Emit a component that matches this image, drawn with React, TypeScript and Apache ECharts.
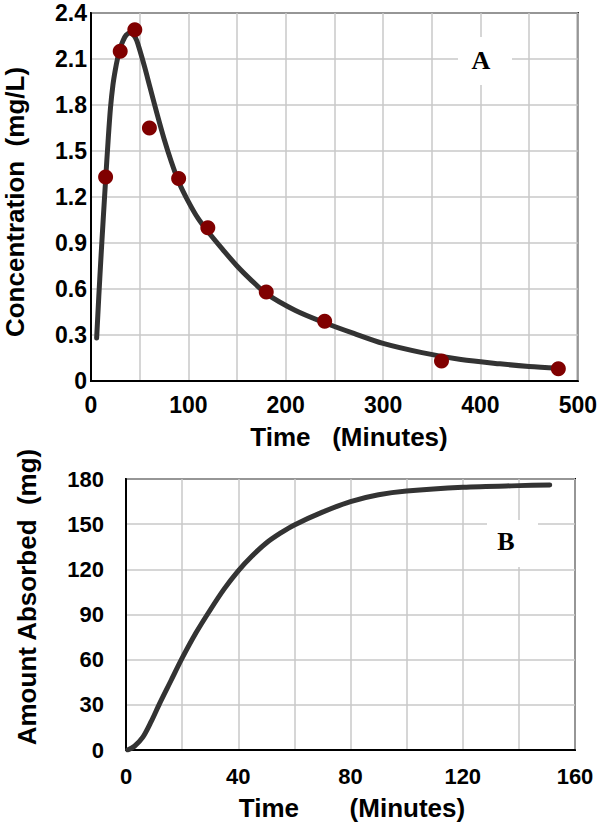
import React, { useEffect, useRef } from 'react';
import * as echarts from 'echarts';

// Panel A: observed concentrations (mg/L) vs time (min)
const obsTimeA = [15, 30, 45, 60, 90, 120, 180, 240, 360, 480];
const obsConcA = [1.33, 2.15, 2.29, 1.65, 1.32, 1.0, 0.58, 0.39, 0.13, 0.08];

// Panel A: fitted curve
const fitTimeA = [5.8, 8, 10, 12.5, 15, 17.5, 20, 22.5, 25, 27.5, 30, 33, 36, 40, 44, 47, 50, 55, 60, 67.5, 75, 82.5, 90, 100, 110, 120, 135, 150, 165, 180, 210, 240, 270, 300, 340, 380, 420, 450, 480];
const fitConcA = [0.28, 0.55, 0.78, 1.05, 1.31, 1.56, 1.78, 1.93, 2.03, 2.11, 2.17, 2.22, 2.255, 2.27, 2.255, 2.22, 2.16, 2.05, 1.93, 1.75, 1.58, 1.43, 1.3, 1.17, 1.06, 0.975, 0.86, 0.75, 0.655, 0.57, 0.46, 0.38, 0.31, 0.245, 0.185, 0.14, 0.112, 0.095, 0.083];

// Panel B: amount absorbed (mg) vs time (min)
const timeB = [0.6, 3, 6, 9, 12, 16, 20, 25, 30, 35, 40, 45, 50, 55, 60, 70, 80, 90, 100, 120, 140, 151];
const amountB = [0, 2.5, 8.5, 19, 31, 46, 61, 78, 93, 107, 119, 129, 137.5, 144, 149.5, 158, 165, 169.5, 172, 174.5, 175.6, 176];

const FONT = '"Liberation Sans", Arial, Helvetica, sans-serif';
const SERIF = '"Liberation Serif", "Times New Roman", serif';

export default function App() {
  const ref = useRef<HTMLDivElement>(null);
  useEffect(() => {
    document.body.style.margin = '0';
    const chart = echarts.init(ref.current!, undefined, { renderer: 'svg' });
    const tickLabel = {
      color: '#000',
      fontFamily: FONT,
      fontWeight: 'bold' as const,
      fontSize: 23,
    };
    const split = { show: true, lineStyle: { color: '#c8c8c8', width: 1.5 } };
    const axisLine = { show: true, lineStyle: { color: '#000', width: 2 } };
    const curveStyle = { color: '#333333', width: 5, cap: 'round' as const, join: 'round' as const };
    chart.setOption({
      animation: false,
      backgroundColor: '#fff',
      grid: [
        { left: 91, top: 13, width: 490, height: 368, show: true, borderColor: '#000', borderWidth: 2, backgroundColor: '#fff' },
        { left: 126, top: 479, width: 449, height: 271, show: true, borderColor: '#000', borderWidth: 2, backgroundColor: '#fff' },
      ],
      xAxis: [
        {
          type: 'value', gridIndex: 0, min: 0, max: 500, interval: 50,
          axisLine, axisTick: { show: false }, splitLine: split,
          axisLabel: { ...tickLabel, margin: 12, formatter: (v: number) => (v % 100 === 0 ? String(v) : '') },
        },
        {
          type: 'value', gridIndex: 1, min: 0, max: 160, interval: 20,
          axisLine, axisTick: { show: false }, splitLine: split,
          axisLabel: { ...tickLabel, fontSize: 22, margin: 15, formatter: (v: number) => (v % 40 === 0 ? String(v) : '') },
        },
      ],
      yAxis: [
        {
          type: 'value', gridIndex: 0, min: 0, max: 2.4, interval: 0.3,
          axisLine, axisTick: { show: false }, splitLine: split,
          axisLabel: { ...tickLabel, margin: 4, formatter: (v: number) => String(Math.round(v * 10) / 10) },
        },
        {
          type: 'value', gridIndex: 1, min: 0, max: 180, interval: 30,
          axisLine, axisTick: { show: false }, splitLine: split,
          axisLabel: { ...tickLabel, fontSize: 22, margin: 22 },
        },
      ],
      series: [
        {
          type: 'line', xAxisIndex: 0, yAxisIndex: 0,
          data: fitTimeA.map((t, i) => [t, fitConcA[i]]),
          smooth: 0.3, showSymbol: false, symbol: 'none',
          lineStyle: curveStyle,
          z: 2,
        },
        {
          type: 'scatter', xAxisIndex: 0, yAxisIndex: 0,
          data: obsTimeA.map((t, i) => [t, obsConcA[i]]),
          symbolSize: 15,
          itemStyle: { color: '#800000', opacity: 1 },
          z: 3,
        },
        {
          type: 'line', xAxisIndex: 1, yAxisIndex: 1,
          data: timeB.map((t, i) => [t, amountB[i]]),
          smooth: 0.3, showSymbol: false, symbol: 'none',
          lineStyle: curveStyle,
          z: 2,
        },
      ],
      graphic: [
        { type: 'rect', shape: { x: 458, y: 37, width: 54, height: 48 }, style: { fill: '#fff' }, z: 10 },
        { type: 'text', x: 481, y: 60, z: 11, style: { text: 'A', fontFamily: SERIF, fontWeight: 'bold', fontSize: 26, fill: '#000', align: 'center', verticalAlign: 'middle' } },
        { type: 'rect', shape: { x: 487, y: 520, width: 51, height: 47 }, style: { fill: '#fff' }, z: 10 },
        { type: 'text', x: 506, y: 541, z: 11, style: { text: 'B', fontFamily: SERIF, fontWeight: 'bold', fontSize: 26, fill: '#000', align: 'center', verticalAlign: 'middle' } },
        { type: 'text', x: 15, y: 202, rotation: Math.PI / 2, z: 11, style: { text: 'Concentration  (mg/L)', fontFamily: FONT, fontWeight: 'bold', fontSize: 26, fill: '#000', align: 'center', verticalAlign: 'middle' } },
        { type: 'text', x: 349, y: 437, z: 11, style: { text: 'Time   (Minutes)', fontFamily: FONT, fontWeight: 'bold', fontSize: 26, fill: '#000', align: 'center', verticalAlign: 'middle' } },
        { type: 'text', x: 27, y: 597, rotation: Math.PI / 2, z: 11, style: { text: 'Amount Absorbed  (mg)', fontFamily: FONT, fontWeight: 'bold', fontSize: 26, fill: '#000', align: 'center', verticalAlign: 'middle' } },
        { type: 'text', x: 352, y: 808, z: 11, style: { text: 'Time       (Minutes)', fontFamily: FONT, fontWeight: 'bold', fontSize: 26, fill: '#000', align: 'center', verticalAlign: 'middle' } },
      ],
    });
    return () => chart.dispose();
  }, []);
  return <div ref={ref} style={{ position: 'absolute', left: 0, top: 0, width: 600, height: 823 }} />;
}
